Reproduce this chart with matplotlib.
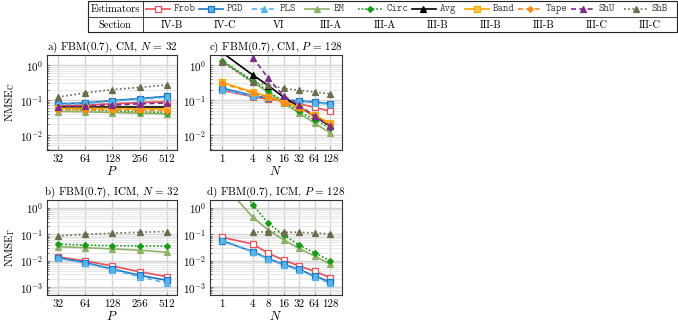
import numpy as np
import matplotlib.pyplot as plt
from matplotlib.lines import Line2D
from matplotlib.patches import Rectangle
from matplotlib.ticker import FixedLocator, LogLocator, NullFormatter

plt.rcParams['font.family'] = 'cmr10'
plt.rcParams['mathtext.fontset'] = 'cm'
plt.rcParams['axes.formatter.use_mathtext'] = True
plt.rcParams['font.size'] = 8

nan = np.nan

estimators = ['Frob', 'PGD', 'PLS', 'EM', 'Circ', 'Avg', 'Band', 'Tape', 'ShU', 'ShB']
sections = ['IV-B', 'IV-C', 'VI', 'III-A', 'III-A', 'III-B', 'III-B', 'III-B', 'III-C', 'III-C']

P = [32, 64, 128, 256, 512]
N = [1, 4, 8, 16, 32, 64, 128]

# a) CM, N = 32, against P
cm_P = {
    'Frob': [0.068, 0.072, 0.078, 0.085, 0.09],
    'PGD':  [0.078, 0.083, 0.097, 0.11, 0.128],
    'PLS':  [0.075, 0.080, 0.093, 0.105, 0.12],
    'EM':   [0.047, 0.046, 0.044, 0.042, 0.040],
    'Circ': [0.054, 0.052, 0.049, 0.046, 0.044],
    'Avg':  [0.062, 0.062, 0.062, 0.062, 0.062],
    'Band': [0.058, 0.058, 0.057, 0.056, 0.056],
    'Tape': [0.053, 0.053, 0.052, 0.051, 0.050],
    'ShU':  [0.065, 0.067, 0.072, 0.078, 0.082],
    'ShB':  [0.122, 0.16, 0.20, 0.23, 0.27],
}
# c) CM, P = 128, against N
cm_N = {
    'Frob': [0.19, 0.125, 0.105, 0.095, 0.078, 0.062, 0.048],
    'PGD':  [0.22, 0.135, 0.115, 0.10, 0.095, 0.088, 0.078],
    'PLS':  [0.20, 0.13, 0.12, 0.098, 0.092, 0.085, 0.075],
    'EM':   [1.3, 0.33, 0.165, 0.082, 0.042, 0.022, 0.0115],
    'Circ': [1.35, 0.36, 0.18, 0.09, 0.048, 0.027, 0.016],
    'Avg':  [2.3, 0.52, 0.26, 0.12, 0.065, 0.034, 0.018],
    'Band': [0.32, 0.17, 0.125, 0.09, 0.062, 0.037, 0.022],
    'Tape': [0.30, 0.16, 0.12, 0.085, 0.058, 0.034, 0.020],
    'ShU':  [nan, 1.65, 0.42, 0.13, 0.07, 0.035, 0.018],
    'ShB':  [1.25, 0.32, 0.27, 0.215, 0.19, 0.17, 0.15],
}
# b) ICM, N = 32, against P
icm_P = {
    'Frob': [0.014, 0.0098, 0.0063, 0.0038, 0.0025],
    'PGD':  [0.013, 0.0085, 0.0048, 0.0028, 0.0018],
    'PLS':  [0.0125, 0.008, 0.0045, 0.0025, 0.0014],
    'EM':   [0.034, 0.031, 0.028, 0.025, 0.021],
    'Circ': [0.043, 0.039, 0.037, 0.036, 0.036],
    'ShB':  [0.087, 0.10, 0.11, 0.12, 0.127],
}
# d) ICM, P = 128, against N
icm_N = {
    'Frob': [0.077, 0.043, 0.019, 0.0106, 0.0063, 0.004, 0.0023],
    'PGD':  [0.057, 0.022, 0.012, 0.0072, 0.0047, 0.0026, 0.0016],
    'PLS':  [0.062, 0.021, 0.0115, 0.0068, 0.0044, 0.0024, 0.0014],
    'EM':   [9.0, 0.44, 0.146, 0.061, 0.029, 0.015, 0.0075],
    'Circ': [50.0, 1.3, 0.26, 0.095, 0.039, 0.02, 0.01],
    'ShB':  [nan, 0.12, 0.126, 0.12, 0.12, 0.113, 0.103],
}

styles = {
    'Frob': dict(color='#e8505b', ls='-', marker='s', mfc='white', ms=4),
    'PGD':  dict(color='#1f73c4', ls='-', marker='s', mfc='#56b4e9', ms=4),
    'PLS':  dict(color='#56b4e9', ls=(0, (3, 2)), marker='^', mfc='#56b4e9', ms=4.5),
    'EM':   dict(color='#8fb069', ls='-', marker='^', mfc='#8fb069', ms=4.5),
    'Circ': dict(color='#1a9a1a', ls=(0, (1, 1.2)), marker='D', mfc='#1a9a1a', ms=3),
    'Avg':  dict(color='black', ls='-', marker='^', mfc='black', ms=4.5),
    'Band': dict(color='#f5a800', ls='-', marker='s', mfc='#ffc94d', ms=4),
    'Tape': dict(color='#ff8c1a', ls=(0, (3, 2)), marker='D', mfc='#ff8c1a', ms=3),
    'ShU':  dict(color='#7b2d8e', ls=(0, (3, 2)), marker='^', mfc='#7b2d8e', ms=4.5),
    'ShB':  dict(color='#6b6b4f', ls=(0, (1, 1.5)), marker='^', mfc='#6b6b4f', ms=4.5),
}

W, H = 678, 329
fig = plt.figure(figsize=(W / 100, H / 100), dpi=100)


def box(x0, y0, x1, y1):
    return [x0 / W, 1 - y1 / H, (x1 - x0) / W, (y1 - y0) / H]


ax_a = fig.add_axes(box(47, 55, 177, 150))
ax_c = fig.add_axes(box(210, 55, 342, 150))
ax_b = fig.add_axes(box(47, 200, 177, 295))
ax_d = fig.add_axes(box(210, 200, 342, 295))


def draw(ax, x, data, xlim, ylim, title, xlabel, ylabel=None):
    for name in estimators:
        if name in data:
            st = styles[name]
            ax.plot(x, data[name], color=st['color'], ls=st['ls'], lw=1.2,
                    marker=st['marker'], ms=st['ms'], mfc=st['mfc'],
                    mec=st['color'], mew=0.9, clip_on=True)
    ax.set_xscale('log', base=2)
    ax.set_yscale('log')
    ax.set_xlim(xlim)
    ax.set_ylim(ylim)
    ax.xaxis.set_major_locator(FixedLocator(x))
    ax.set_xticklabels([str(v) for v in x])
    ax.xaxis.set_minor_locator(FixedLocator([]))
    ax.yaxis.set_major_locator(LogLocator(base=10, numticks=10))
    ax.yaxis.set_minor_locator(LogLocator(base=10, subs=np.arange(2, 10), numticks=10))
    ax.yaxis.set_minor_formatter(NullFormatter())
    ax.grid(True, which='major', color='#d4d4d4', lw=1.0)
    ax.grid(True, which='minor', axis='y', color='#e4e4e4', lw=0.6)
    ax.set_axisbelow(True)
    ax.tick_params(which='both', direction='in', length=2, width=0.5,
                   labelsize=8, pad=3, color='#555555')
    ax.tick_params(which='minor', length=1.2)
    for s in ax.spines.values():
        s.set_linewidth(0.8)
        s.set_color('#333333')
    ax.set_title(title, fontsize=8, pad=3)
    ax.set_xlabel(xlabel, fontsize=9, labelpad=1)
    if ylabel:
        ax.set_ylabel(ylabel, fontsize=8, labelpad=2)


xlim_P = (32 / 2 ** 0.4, 512 * 2 ** 0.37)
xlim_N = (2 ** -0.78, 128 * 2 ** 0.78)

draw(ax_a, P, cm_P, xlim_P, (10 ** -2.43, 10 ** 0.29),
     r'a) FBM(0.7), CM, $N\,=\,32$', r'$P$', r'NMSE$_\mathrm{C}$')
draw(ax_c, N, cm_N, xlim_N, (10 ** -2.43, 10 ** 0.29),
     r'c) FBM(0.7), CM, $P\,=\,128$', r'$N$')
draw(ax_b, P, icm_P, xlim_P, (10 ** -3.3, 10 ** 0.3),
     r'b) FBM(0.7), ICM, $N\,=\,32$', r'$P$', r'NMSE$_\Gamma$')
draw(ax_d, N, icm_N, xlim_N, (10 ** -3.3, 10 ** 0.3),
     r'd) FBM(0.7), ICM, $P\,=\,128$', r'$N$')

# legend table at the top
def fx(x):
    return x / W


def fy(y):
    return 1 - y / H


lx0, lx1, ly0, ly1 = 88, 677, 1, 32
fig.add_artist(Rectangle((fx(lx0), fy(ly1)), fx(lx1) - fx(lx0), fy(ly0) - fy(ly1),
                         transform=fig.transFigure, fill=False, lw=0.8, ec='#222222'))
fig.add_artist(Line2D([fx(lx0), fx(lx1)], [fy(17), fy(17)], transform=fig.transFigure,
                      color='#222222', lw=0.6))
fig.add_artist(Line2D([fx(143), fx(143)], [fy(ly0), fy(ly1)], transform=fig.transFigure,
                      color='#222222', lw=0.6))
fig.text(fx(115), fy(9), 'Estimators', ha='center', va='center', fontsize=7.5)
fig.text(fx(115), fy(25), 'Section', ha='center', va='center', fontsize=7.5)

for i, (name, sec) in enumerate(zip(estimators, sections)):
    c = 172 + 53.1 * i
    st = styles[name]
    fig.add_artist(Line2D([fx(c - 26), fx(c - 2)], [fy(9), fy(9)], transform=fig.transFigure,
                          color=st['color'], ls=st['ls'], lw=1.2))
    fig.add_artist(Line2D([fx(c - 14)], [fy(9)], transform=fig.transFigure,
                          color=st['color'], marker=st['marker'], ms=st['ms'],
                          mfc=st['mfc'], mec=st['color'], mew=0.9))
    fig.text(fx(c + 2), fy(9), name, ha='left', va='center', fontsize=7.5,
             family='cmtt10', color='#444444')
    fig.text(fx(c), fy(25), sec, ha='center', va='center', fontsize=7.5)

fig.savefig('out.png', dpi=100)
